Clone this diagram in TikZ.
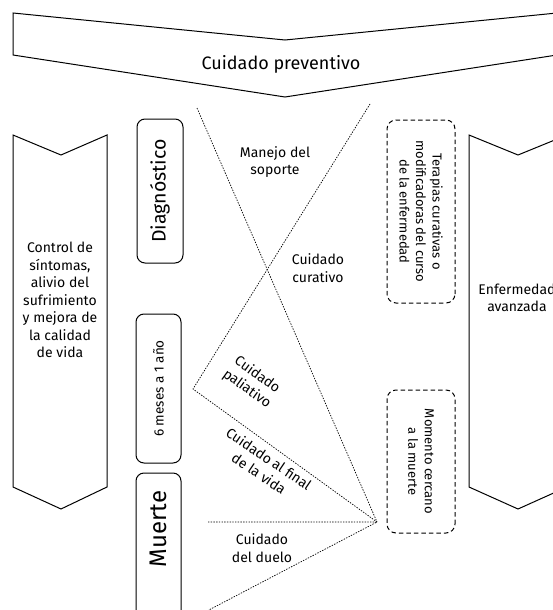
\documentclass[tikz,border=0pt]{standalone}
\usepackage{fontspec}
\setmainfont{Fira Sans}
\usepackage{tikz}

\begin{document}
\begin{tikzpicture}[x=1pt, y=-1pt,
		chevron/.style={draw, line width=1pt, line join=miter},
		etapa/.style={draw, line width=1pt, rounded corners=8pt, rotate=90, inner sep=0pt},
		meta/.style={draw, line width=1pt, dash pattern=on 4.5pt off 3pt, rounded corners=9pt,
			rotate=-90, align=center, inner sep=0pt, font=\fontsize{13}{16.5}\selectfont},
		limite/.style={line width=0.7pt, dash pattern=on 1.4pt off 1.3pt},
		rotulo/.style={align=center, font=\fontsize{14}{17.5}\selectfont}]
	\useasboundingbox (0,0) rectangle (553,610);
	\clip (0,0) rectangle (553,610);

	% flechas de fondo
	\draw[chevron] (13,13) -- (285,40) -- (557,13) -- (557,55) -- (285,97) -- (13,55) -- cycle;
	\draw[chevron] (13,135) -- (61,155) -- (107,135) -- (107,487) -- (61,509) -- (13,487) -- cycle;
	\draw[chevron] (469,135) -- (518,155) -- (567,135) -- (567,487) -- (518,509) -- (469,487) -- cycle;
	\node[rotulo, font=\fontsize{18}{22}\selectfont] (prev) at (281,64) {Cuidado preventivo};
	\node[rotulo] (ctrl) at (60,300) {Control de\\síntomas,\\alivio del\\sufrimiento\\y mejora de\\la calidad\\de vida};
	\node[rotulo] (enf) at (517,298) {Enfermedad\\avanzada};

	% etapas
	\node[etapa, minimum width=144pt, minimum height=46pt, font=\fontsize{19.5}{24}\selectfont] (diag) at (160,191) {Diagnóstico};
	\node[etapa, minimum width=149pt, minimum height=45pt, font=\fontsize{13.5}{17}\selectfont] (meses) at (158.5,388.5) {6 meses a 1 año};
	\draw[line width=1pt, rounded corners=8pt] (136,473) rectangle (181,680);
	\node[rotate=90, font=\fontsize{24}{28}\selectfont] (muerte) at (158,529) {Muerte};

	\node[meta, minimum width=183pt, minimum height=68pt] (tera) at (421,211.5) {Terapias curativas o\\modificadoras del curso\\de la enfermedad};
	\node[meta, minimum width=143pt, minimum height=68pt] (mom) at (421,461.5) {Momento cercano\\a la muerte};

	% limites
	\coordinate (aTop) at (197,108);
	\coordinate (bTop) at (370,104);
	\coordinate (vPal) at (193,389);
	\coordinate (vFin) at (377,522);
	\coordinate (hIzq) at (208,522);
	\coordinate (vBaj) at (205,612);
	\draw[limite] (aTop) -- (vFin);
	\draw[limite] (bTop) -- (vPal) -- (vFin);
	\draw[limite] (hIzq) -- (vFin) -- (vBaj);

	\node[rotulo] (sop) at (275,162) {Manejo del\\soporte};
	\node[rotulo] (cur) at (318,268) {Cuidado\\curativo};
	\node[rotulo, rotate=-36] (pal) at (252,382) {Cuidado\\paliativo};
	\node[rotulo, rotate=-34] (fin) at (264,466) {Cuidado al final\\de la vida};
	\node[rotulo] (duel) at (262,548) {Cuidado\\del duelo};
\end{tikzpicture}
\end{document}
